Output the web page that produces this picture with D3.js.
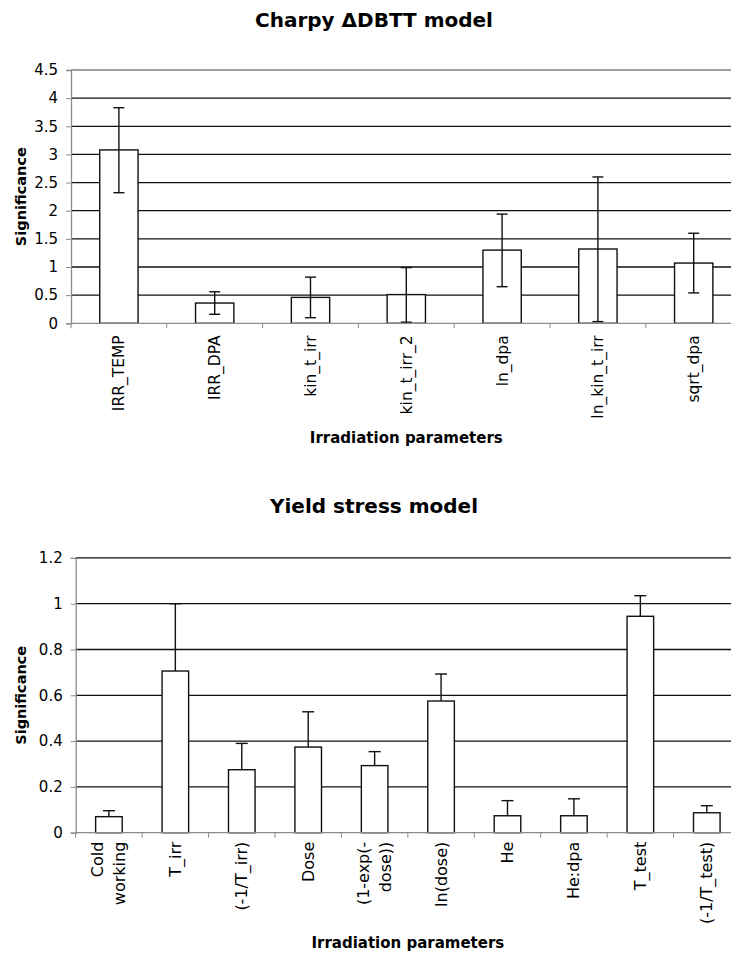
<!DOCTYPE html>
<html>
<head>
<meta charset="utf-8">
<script src="https://cdn.jsdelivr.net/npm/d3@7"></script>
<style>
  html, body { margin: 0; padding: 0; background: #fff; }
  svg { display: block; }
  text { font-family: "DejaVu Sans", Verdana, sans-serif; fill: #000; }
</style>
</head>
<body>
<script>
// Charpy ΔDBTT model: significance of each irradiation parameter
const dbttCategories = ["IRR_TEMP", "IRR_DPA", "kin_t_irr", "kin_t_irr_2", "ln_dpa", "ln_kin_t_irr", "sqrt_dpa"];
const dbttSignificance = [3.08, 0.36, 0.46, 0.51, 1.30, 1.32, 1.07];
const dbttErrorHigh = [3.83, 0.56, 0.82, 0.99, 1.94, 2.60, 1.60];
const dbttErrorLow = [2.32, 0.16, 0.10, 0.02, 0.65, 0.03, 0.54];
const dbttTicks = [0, 0.5, 1, 1.5, 2, 2.5, 3, 3.5, 4, 4.5];
const dbttTickLabels = ["0", "0.5", "1", "1.5", "2", "2.5", "3", "3.5", "4", "4.5"];

// Yield stress model: significance with upper error only
const yieldCategories = ["Cold\nworking", "T_irr", "(-1/T_irr)", "Dose", "(1-exp(-\ndose))", "ln(dose)", "He", "He:dpa", "T_test", "(-1/T_test)"];
const yieldSignificance = [0.070, 0.706, 0.275, 0.374, 0.293, 0.575, 0.074, 0.074, 0.945, 0.087];
const yieldErrorHigh = [0.096, 1.0, 0.39, 0.528, 0.354, 0.693, 0.14, 0.148, 1.035, 0.118];
const yieldTicks = [0, 0.2, 0.4, 0.6, 0.8, 1, 1.2];
const yieldTickLabels = ["0", "0.2", "0.4", "0.6", "0.8", "1", "1.2"];

const svg = d3.select("body").append("svg")
  .attr("width", 731).attr("height", 956);

function drawChart(opt) {
  const g = svg.append("g");
  const rows = opt.categories.map((c, i) => ({
    cat: c, v: opt.values[i],
    hi: opt.errHigh[i],
    lo: opt.errLow ? opt.errLow[i] : opt.values[i]
  }));

  const x = d3.scaleBand().domain(opt.categories)
    .range([opt.left, opt.right]).paddingInner(0.6).paddingOuter(0.3);
  const y = d3.scaleLinear().domain([0, opt.yMax]).range([opt.bottom, opt.top]);
  const step = x.step();

  // title
  g.append("text").attr("x", 374).attr("y", opt.titleY)
    .attr("text-anchor", "middle").attr("font-size", 20).attr("font-weight", "bold")
    .text(opt.title);

  // horizontal gridlines
  g.append("g").selectAll("line").data(opt.ticks.filter(t => t > 0)).join("line")
    .attr("x1", opt.left).attr("x2", opt.right)
    .attr("y1", d => y(d)).attr("y2", d => y(d))
    .attr("stroke", d => (d === opt.yMax ? opt.topLineColor : "#111"))
    .attr("stroke-width", 1.3);

  // y axis
  const yAxis = d3.axisLeft(y).tickValues(opt.ticks)
    .tickFormat((d, i) => opt.tickLabels[i]).tickSize(5).tickPadding(8);
  const ya = g.append("g").attr("transform", `translate(${opt.left},0)`).call(yAxis);
  ya.select(".domain").attr("stroke", "#8a8a8a").attr("stroke-width", 1.3);
  ya.selectAll(".tick line").attr("stroke", "#8a8a8a");
  ya.selectAll(".tick text").attr("font-size", 15)
    .attr("font-family", "DejaVu Sans, Verdana, sans-serif").attr("fill", "#000");

  // bars
  g.append("g").selectAll("rect").data(rows).join("rect")
    .attr("x", d => x(d.cat)).attr("width", x.bandwidth())
    .attr("y", d => y(d.v)).attr("height", d => y(0) - y(d.v))
    .attr("fill", "#fff").attr("stroke", "#111").attr("stroke-width", 1.4);

  // error bars
  const eb = g.append("g").attr("stroke", "#111").attr("stroke-width", 1.4);
  const cx = d => x(d.cat) + x.bandwidth() / 2;
  eb.selectAll("line.v").data(rows).join("line").attr("class", "v")
    .attr("x1", cx).attr("x2", cx)
    .attr("y1", d => y(d.lo)).attr("y2", d => y(d.hi));
  eb.selectAll("line.ch").data(rows).join("line").attr("class", "ch")
    .attr("x1", d => cx(d) - opt.cap).attr("x2", d => cx(d) + opt.cap)
    .attr("y1", d => y(d.hi)).attr("y2", d => y(d.hi));
  if (opt.errLow) {
    eb.selectAll("line.cl").data(rows).join("line").attr("class", "cl")
      .attr("x1", d => cx(d) - opt.cap).attr("x2", d => cx(d) + opt.cap)
      .attr("y1", d => y(d.lo)).attr("y2", d => y(d.lo));
  }

  // x axis line and category separators
  g.append("line").attr("x1", opt.left).attr("x2", opt.right)
    .attr("y1", y(0)).attr("y2", y(0))
    .attr("stroke", "#8a8a8a").attr("stroke-width", 1.3);
  g.append("g").selectAll("line").data(d3.range(opt.categories.length + 1)).join("line")
    .attr("x1", i => opt.left + i * step).attr("x2", i => opt.left + i * step)
    .attr("y1", y(0)).attr("y2", y(0) + 5)
    .attr("stroke", "#8a8a8a").attr("stroke-width", 1);

  // rotated category labels
  const lh = 22;
  const lab = g.append("g").selectAll("text").data(rows).join("text")
    .attr("font-size", opt.labelSize)
    .attr("text-anchor", "end")
    .attr("transform", d => {
      const lines = d.cat.split("\n").length;
      const px = cx(d) - (lines - 1) * lh / 2 + 5.5;
      return `translate(${px},${y(0) + opt.labelGap}) rotate(-90)`;
    });
  lab.each(function(d) {
    const t = d3.select(this);
    d.cat.split("\n").forEach((s, i) => {
      t.append("tspan").attr("x", 0).attr("y", i * lh).text(s);
    });
  });

  // axis titles
  g.append("text").attr("font-size", 14.5).attr("font-weight", "bold")
    .attr("text-anchor", "middle")
    .attr("transform", `translate(${opt.yTitleX},${(opt.top + opt.bottom) / 2}) rotate(-90)`)
    .text("Significance");
  g.append("text").attr("font-size", 15).attr("font-weight", "bold")
    .attr("text-anchor", "middle")
    .attr("x", (opt.left + opt.right) / 2).attr("y", opt.xTitleY)
    .text("Irradiation parameters");
}

drawChart({
  title: "Charpy \u0394DBTT model", titleY: 27,
  categories: dbttCategories, values: dbttSignificance,
  errHigh: dbttErrorHigh, errLow: dbttErrorLow,
  ticks: dbttTicks, tickLabels: dbttTickLabels, yMax: 4.5,
  left: 71, right: 741.6, top: 70, bottom: 323.3,
  topLineColor: "#808080", cap: 5.5, labelSize: 15.5, labelGap: 12,
  yTitleX: 26, xTitleY: 443
});

drawChart({
  title: "Yield stress model", titleY: 513,
  categories: yieldCategories, values: yieldSignificance,
  errHigh: yieldErrorHigh, errLow: null,
  ticks: yieldTicks, tickLabels: yieldTickLabels, yMax: 1.2,
  left: 75.7, right: 740, top: 557.9, bottom: 832.7,
  topLineColor: "#111", cap: 6, labelSize: 16, labelGap: 9,
  yTitleX: 26, xTitleY: 948
});
</script>
</body>
</html>
